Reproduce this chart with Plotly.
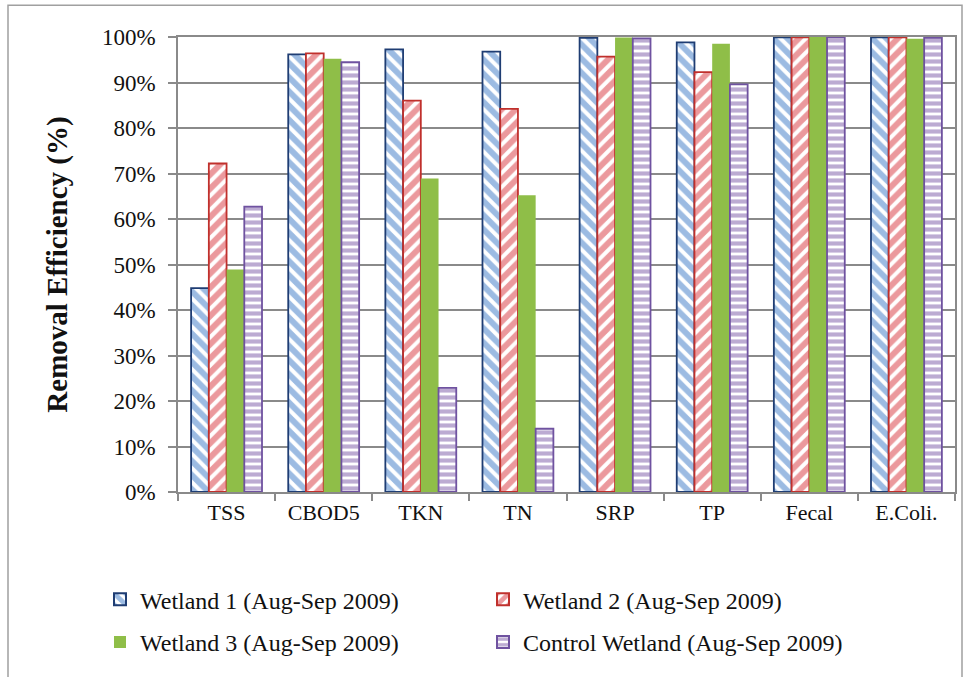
import plotly.graph_objects as go

categories = ["TSS", "CBOD5", "TKN", "TN", "SRP", "TP", "Fecal", "E.Coli."]
wetland1 = [44.8, 96.2, 97.3, 96.8, 99.8, 98.8, 99.9, 99.9]
wetland2 = [72.2, 96.4, 86.0, 84.2, 95.7, 92.3, 99.9, 99.9]
wetland3 = [48.9, 95.2, 68.9, 65.2, 99.9, 98.5, 100.0, 99.6]
control = [62.7, 94.5, 22.9, 13.9, 99.7, 89.6, 99.9, 99.8]
series_names = [
    "Wetland 1 (Aug-Sep 2009)",
    "Wetland 2 (Aug-Sep 2009)",
    "Wetland 3 (Aug-Sep 2009)",
    "Control Wetland (Aug-Sep 2009)",
]
y_ticks = [0, 10, 20, 30, 40, 50, 60, 70, 80, 90, 100]
y_tick_labels = [f"{v}%" for v in y_ticks]

FONT = "Liberation Serif"
W, H = 972, 677
ml, mr, mt, mb = 178, 17, 37, 183

fig = go.Figure()

fig.add_trace(go.Bar(
    x=categories, y=wetland1, name=series_names[0], legend="legend",
    marker=dict(color="white", line=dict(color="#1F3D73", width=1.8),
                pattern=dict(shape="\\", fgcolor="#3A78C6", bgcolor="white",
                             size=10, solidity=0.6, fillmode="overlay")),
))
fig.add_trace(go.Bar(
    x=categories, y=wetland2, name=series_names[1], legend="legend",
    marker=dict(color="white", line=dict(color="#C0302C", width=1.8),
                pattern=dict(shape="/", fgcolor="#D8343B", bgcolor="white",
                             size=10, solidity=0.6, fillmode="overlay")),
))
fig.add_trace(go.Bar(
    x=categories, y=wetland3, name=series_names[2], legend="legend2",
    marker=dict(color="#8FBE48", line=dict(color="#8FBE48", width=0)),
))
fig.add_trace(go.Bar(
    x=categories, y=control, name=series_names[3], legend="legend2",
    marker=dict(color="white", line=dict(color="#6F52A0", width=1.8),
                pattern=dict(shape="-", fgcolor="#7A58A6", bgcolor="white",
                             size=7, solidity=0.6, fillmode="overlay")),
))

legend_common = dict(
    orientation="h", xanchor="left", yanchor="middle",
    font=dict(family=FONT, size=24, color="#111"),
    entrywidth=338, entrywidthmode="pixels",
    bgcolor="rgba(0,0,0,0)", itemsizing="constant",
)
ph = H - mt - mb
pw = W - ml - mr
fig.update_layout(
    width=W, height=H,
    margin=dict(l=ml, r=mr, t=mt, b=mb),
    paper_bgcolor="white", plot_bgcolor="white",
    barmode="group", bargap=0.27, bargroupgap=0.0,
    font=dict(family=FONT, color="#111"),
    legend=dict(x=(100 - ml) / pw, y=-(602 - mt - ph) / ph, **legend_common),
    legend2=dict(x=(100 - ml) / pw, y=-(645 - mt - ph) / ph, **legend_common),
    showlegend=True,
    shapes=[
        dict(type="rect", xref="paper", yref="paper",
             x0=(8 - ml) / pw, x1=(962 - ml) / pw,
             y0=-(H + 10 - mt - ph) / ph, y1=(ph + mt - 5) / ph,
             line=dict(color="#A0A0A0", width=1.5), layer="below"),
    ],
)
fig.update_yaxes(
    range=[0, 100], tickvals=y_ticks, ticktext=y_tick_labels,
    showgrid=True, gridcolor="#8A8A8A", gridwidth=1.5,
    showline=True, linecolor="#8A8A8A", linewidth=1.5, mirror=True,
    ticks="outside", ticklen=8, tickcolor="#8A8A8A", tickwidth=1.5,
    ticklabelstandoff=8,
    tickfont=dict(family=FONT, size=23, color="#111"),
    title=dict(text="<b>Removal Efficiency (%)</b>", standoff=26,
               font=dict(family=FONT, size=29, color="#111")),
    zeroline=False, fixedrange=True,
)
fig.update_xaxes(
    showline=True, linecolor="#8A8A8A", linewidth=1.5, mirror=True,
    ticks="outside", tickson="boundaries", ticklen=7, tickcolor="#8A8A8A", tickwidth=1.5,
    tickfont=dict(family=FONT, size=22, color="#111"),
    showgrid=False,
)

fig.write_html("out.html")
